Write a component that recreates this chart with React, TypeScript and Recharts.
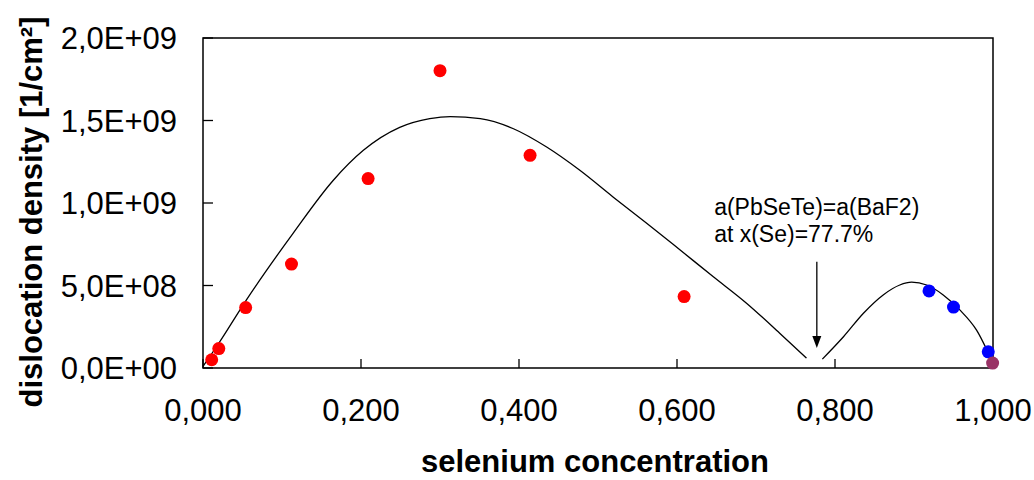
import React from "react";
import {
  ComposedChart,
  Line,
  Scatter,
  XAxis,
  YAxis,
  ReferenceArea,
  ReferenceLine,
  ReferenceDot,
  Label,
} from "recharts";

const FONT = "'Liberation Sans', Arial, Helvetica, sans-serif";

// axis ticks
const xTicks = [0, 0.2, 0.4, 0.6, 0.8, 1.0];
const yTicks = [0, 5e8, 1e9, 1.5e9, 2e9];

// measured dislocation densities
const redX = [0.011, 0.02, 0.054, 0.112, 0.209, 0.3, 0.414, 0.609];
const redY = [5.0e7, 1.18e8, 3.66e8, 6.3e8, 1.148e9, 1.802e9, 1.289e9, 4.33e8];
const blueX = [0.919, 0.95, 0.994];
const blueY = [4.67e8, 3.69e8, 9.8e7];
const purpleX = [0.9995];
const purpleY = [3.0e7];

// guide-to-the-eye curves (two branches, split at the lattice match)
const leftCurveX = [
  0, 0.02, 0.055, 0.114, 0.165, 0.203, 0.249, 0.287, 0.313, 0.351, 0.393,
  0.435, 0.477, 0.519, 0.562, 0.604, 0.646, 0.688, 0.73, 0.764,
];
const leftCurveY = [
  0.01e9, 0.15e9, 0.413e9, 0.816e9, 1.138e9, 1.319e9, 1.458e9, 1.511e9,
  1.524e9, 1.511e9, 1.45e9, 1.339e9, 1.198e9, 1.037e9, 0.876e9, 0.715e9,
  0.553e9, 0.393e9, 0.211e9, 0.06e9,
];
const rightCurveX = [
  0.784, 0.811, 0.836, 0.861, 0.882, 0.897, 0.916, 0.937, 0.958, 0.979, 0.999,
];
const rightCurveY = [
  0.054e9, 0.191e9, 0.332e9, 0.443e9, 0.503e9, 0.52e9, 0.503e9, 0.443e9,
  0.352e9, 0.231e9, 0.04e9,
];

// annotation
const matchX = 0.777;
const arrowFrom = 6.44e8;
const arrowTo = 1.21e8;
const noteX = 0.647;
const noteY = 9.26e8;
const noteLines = ["a(PbSeTe)=a(BaF2)", "at x(Se)=77.7%"];

const toPts = (xs: number[], ys: number[]) =>
  xs.map((x, i) => ({ x, y: ys[i] }));

const fmtX = (v: number) => v.toFixed(3).replace(".", ",");
const fmtY = (v: number) => {
  if (v === 0) return "0,0E+00";
  const e = Math.floor(Math.log10(v));
  const m = v / Math.pow(10, e);
  return `${m.toFixed(1).replace(".", ",")}E+${String(e).padStart(2, "0")}`;
};

const dot = (color: string) => (p: any) =>
  <circle cx={p.cx} cy={p.cy} r={6.5} fill={color} />;

export default function App() {
  const tickStyle = { fill: "#000", fontSize: 31, fontFamily: FONT };
  return (
    <div style={{ position: "absolute", left: 0, top: 0, background: "#fff" }}>
      <ComposedChart
        width={1034}
        height={480}
        margin={{ top: 38, right: 41, bottom: 0, left: 0 }}
      >
        <XAxis
          type="number"
          dataKey="x"
          domain={[0, 1]}
          ticks={xTicks}
          tickFormatter={fmtX}
          height={112}
          axisLine={false}
          tickSize={-9}
          tickMargin={40}
          tickLine={{ stroke: "#000", strokeWidth: 1.3 }}
          tick={tickStyle}
          interval={0}
        >
          <Label
            content={(p: any) => {
              const vb = p.viewBox;
              return (
                <text
                  x={vb.x + vb.width / 2 - 3}
                  y={vb.y + 104}
                  textAnchor="middle"
                  fontFamily={FONT}
                  fontSize={31}
                  fontWeight={700}
                  fill="#000"
                >
                  selenium concentration
                </text>
              );
            }}
          />
        </XAxis>
        <YAxis
          type="number"
          dataKey="y"
          domain={[0, 2e9]}
          ticks={yTicks}
          tickFormatter={fmtY}
          width={203}
          axisLine={false}
          tickSize={-10}
          tickMargin={36}
          tickLine={{ stroke: "#000", strokeWidth: 1.3 }}
          tick={tickStyle}
          interval={0}
        >
          <Label
            content={(p: any) => {
              const vb = p.viewBox;
              const cx = vb.x + 42;
              const cy = vb.y + vb.height / 2 + 9;
              return (
                <text
                  x={cx}
                  y={cy}
                  transform={`rotate(-90 ${cx} ${cy})`}
                  textAnchor="middle"
                  fontFamily={FONT}
                  fontSize={31}
                  fontWeight={700}
                  fill="#000"
                >
                  dislocation density [1/cm²]
                </text>
              );
            }}
          />
        </YAxis>

        <ReferenceArea
          x1={0}
          x2={1}
          y1={0}
          y2={2e9}
          fill="none"
          stroke="#000"
          strokeWidth={1.5}
        />

        <Line
          data={toPts(leftCurveX, leftCurveY)}
          dataKey="y"
          type="monotone"
          stroke="#000"
          strokeWidth={1.3}
          dot={false}
          activeDot={false}
          isAnimationActive={false}
        />
        <Line
          data={toPts(rightCurveX, rightCurveY)}
          dataKey="y"
          type="monotone"
          stroke="#000"
          strokeWidth={1.3}
          dot={false}
          activeDot={false}
          isAnimationActive={false}
        />

        <Scatter
          data={toPts(redX, redY)}
          dataKey="y"
          shape={dot("#ff0000")}
          isAnimationActive={false}
        />
        <Scatter
          data={toPts(blueX, blueY)}
          dataKey="y"
          shape={dot("#0000ff")}
          isAnimationActive={false}
        />
        <Scatter
          data={toPts(purpleX, purpleY)}
          dataKey="y"
          shape={dot("#993366")}
          isAnimationActive={false}
        />

        <ReferenceLine
          segment={[
            { x: matchX, y: arrowFrom },
            { x: matchX, y: arrowTo },
          ]}
          shape={(p: any) => (
            <g>
              <line
                x1={p.x1}
                y1={p.y1}
                x2={p.x2}
                y2={p.y2 - 11}
                stroke="#000"
                strokeWidth={1.3}
              />
              <polygon
                points={`${p.x2 - 4.5},${p.y2 - 12} ${p.x2 + 4.5},${p.y2 - 12} ${p.x2},${p.y2}`}
                fill="#000"
              />
            </g>
          )}
        />
        <ReferenceDot
          x={noteX}
          y={noteY}
          r={0}
          shape={(p: any) => (
            <text
              x={p.cx}
              y={p.cy}
              fontFamily={FONT}
              fontSize={23}
              fill="#000"
            >
              <tspan x={p.cx}>{noteLines[0]}</tspan>
              <tspan x={p.cx} dy={27}>
                {noteLines[1]}
              </tspan>
            </text>
          )}
        />
      </ComposedChart>
    </div>
  );
}
